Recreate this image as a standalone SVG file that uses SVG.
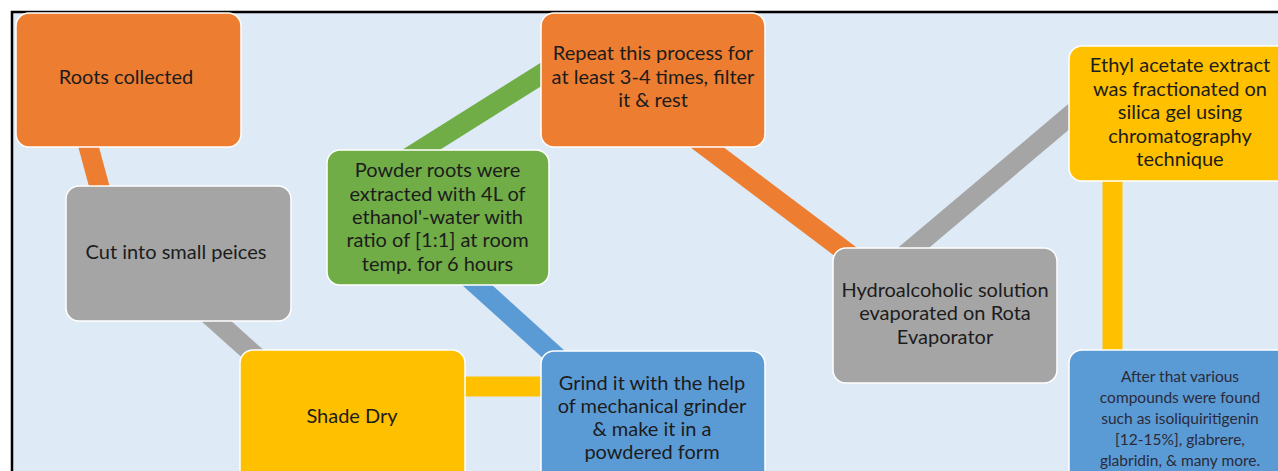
<svg xmlns="http://www.w3.org/2000/svg" width="1278" height="471" viewBox="0 0 1278 471">
<style>
.box{stroke:#ffffff;stroke-width:1.5}
.or{fill:#ED7D31}.gr{fill:#A5A5A5}.ye{fill:#FFC000}.bl{fill:#5B9BD5}.gn{fill:#70AD47}
.t{font-family:Lato,"Liberation Sans",sans-serif;font-size:20px;fill:#1c1c1c;text-anchor:middle}
.s{font-size:15.5px;fill:#2a2a3a}
.c{fill:none;stroke-width:20;stroke-linecap:butt}
</style>
<rect x="0" y="0" width="1278" height="471" fill="#ffffff"/>
<rect x="12" y="12" width="1266" height="459" fill="#DEEAF6"/>
<path d="M12 471 V12 H1278" fill="none" stroke="#000" stroke-width="2.5"/>
<g id="connectors">
<line class="c" stroke="#ED7D31" x1="84" y1="130" x2="103" y2="200"/>
<line class="c" stroke="#A5A5A5" x1="205" y1="311" x2="262" y2="362"/>
<line class="c" stroke="#70AD47" x1="408" y1="158" x2="556" y2="65"/>
<line class="c" stroke="#5B9BD5" x1="466" y1="275" x2="561" y2="361"/>
<line class="c" stroke="#FFC000" x1="455" y1="386.5" x2="550" y2="386.5" stroke-width="21"/>
<line class="c" stroke="#ED7D31" x1="692" y1="136" x2="850" y2="255"/>
<line class="c" stroke="#A5A5A5" x1="905" y1="255" x2="1085" y2="103"/>
<line class="c" stroke="#FFC000" x1="1112.5" y1="175" x2="1112.5" y2="356" stroke-width="19"/>
</g>
<g id="n1"><rect class="box or" x="16" y="13" width="225" height="134" rx="13"/>
<text class="t" x="126" y="84">Roots collected</text></g>
<g id="n2"><rect class="box gr" x="66" y="186" width="225" height="135" rx="13"/>
<text class="t" x="176" y="259">Cut into small peices</text></g>
<g id="n3"><rect class="box ye" x="240" y="350" width="225" height="135" rx="13"/>
<text class="t" x="352" y="423">Shade Dry</text></g>
<g id="n4"><rect class="box bl" x="541" y="351" width="224" height="135" rx="13"/>
<text class="t" x="652" y="390">Grind it with the help</text>
<text class="t" x="652" y="413">of mechanical grinder</text>
<text class="t" x="652" y="436">&amp; make it in a</text>
<text class="t" x="652" y="459">powdered form</text></g>
<g id="n5"><rect class="box gn" x="327" y="150" width="222" height="135" rx="13"/>
<text class="t" x="437.5" y="177">Powder roots were</text>
<text class="t" x="437.5" y="201">extracted with 4L of</text>
<text class="t" x="437.5" y="224">ethanol'-water with</text>
<text class="t" x="437.5" y="247">ratio of [1:1] at room</text>
<text class="t" x="437.5" y="271">temp. for 6 hours</text></g>
<g id="n6"><rect class="box or" x="541" y="13" width="224" height="134" rx="13"/>
<text class="t" x="653" y="60">Repeat this process for</text>
<text class="t" x="653" y="84">at least 3-4 times, filter</text>
<text class="t" x="653" y="107">it &amp; rest</text></g>
<g id="n7"><rect class="box gr" x="833" y="248" width="224" height="135" rx="13"/>
<text class="t" x="945" y="297">Hydroalcoholic solution</text>
<text class="t" x="945" y="320">evaporated on Rota</text>
<text class="t" x="945" y="344">Evaporator</text></g>
<g id="n8"><rect class="box ye" x="1069" y="46" width="225" height="135" rx="13"/>
<text class="t" x="1180" y="72">Ethyl acetate extract</text>
<text class="t" x="1180" y="96">was fractionated on</text>
<text class="t" x="1180" y="119">silica gel using</text>
<text class="t" x="1180" y="143">chromatography</text>
<text class="t" x="1180" y="166">technique</text></g>
<g id="n9"><rect class="box bl" x="1069" y="350" width="225" height="135" rx="13"/>
<text class="t s" x="1180" y="382">After that various</text>
<text class="t s" x="1180" y="403">compounds were found</text>
<text class="t s" x="1180" y="424">such as isoliquiritigenin</text>
<text class="t s" x="1180" y="445">[12-15%], glabrere,</text>
<text class="t s" x="1180" y="466">glabridin, &amp; many more.</text></g>
</svg>
